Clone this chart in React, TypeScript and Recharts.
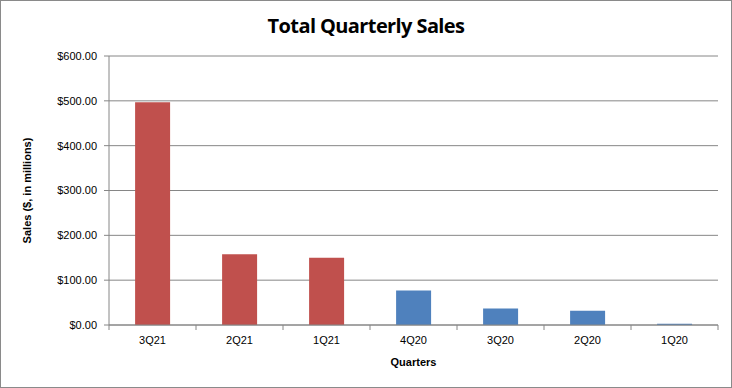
import React from 'react';
import { BarChart, Bar, XAxis, YAxis, CartesianGrid, Cell } from 'recharts';

const quarters = ['3Q21', '2Q21', '1Q21', '4Q20', '3Q20', '2Q20', '1Q20'];
const sales = [497, 158, 150, 77, 37, 32, 3];
const yTicks = [0, 100, 200, 300, 400, 500, 600];

const data = quarters.map((q, i) => ({ quarter: q, sales: sales[i] }));

const RED = '#C0504D';
const BLUE = '#4F81BD';
const AXIS = '#868686';
const FONT = '"Liberation Sans", Arial, sans-serif';
const TICK_SIZE = 5;
const TICK_MARGIN = 6;

// category labels, plus Excel-style tick marks on the boundaries between categories
const QuarterTick = (props: any) => {
  const { x, y, payload, index, visibleTicksCount } = props;
  const half = payload?.offset ?? 0;
  const axisY = y - TICK_SIZE - TICK_MARGIN;
  return (
    <g>
      <line x1={x - half} x2={x - half} y1={axisY} y2={axisY + TICK_SIZE} stroke={AXIS} />
      {index === visibleTicksCount - 1 && (
        <line x1={x + half} x2={x + half} y1={axisY} y2={axisY + TICK_SIZE} stroke={AXIS} />
      )}
      <text x={x} y={y} dy="0.71em" textAnchor="middle" fontSize={11} fill="#000" fontFamily={FONT}>
        {payload.value}
      </text>
    </g>
  );
};

export default function App() {
  return (
    <div style={{ position: 'relative', width: 732, height: 388, background: '#fff', fontFamily: FONT }}>
      <style>{`body{margin:0}`}</style>
      <div
        style={{
          position: 'absolute',
          inset: 0,
          border: '1px solid #8a8a8a',
          boxSizing: 'border-box',
          pointerEvents: 'none',
          zIndex: 2,
        }}
      />
      <div
        style={{
          position: 'absolute',
          top: 12,
          left: 0,
          width: 732,
          textAlign: 'center',
          fontFamily: '"Open Sans", sans-serif',
          fontWeight: 700,
          fontSize: 20,
          letterSpacing: -0.6,
          color: '#000',
        }}
      >
        Total Quarterly Sales
      </div>
      <BarChart
        width={732}
        height={388}
        data={data}
        margin={{ top: 56, right: 14, bottom: 33, left: 0 }}
        barCategoryGap="30%"
      >
        <CartesianGrid vertical={false} stroke={AXIS} strokeWidth={1} />
        <XAxis
          dataKey="quarter"
          height={30}
          stroke={AXIS}
          tickLine={false}
          tickSize={TICK_SIZE}
          tickMargin={TICK_MARGIN}
          interval={0}
          tick={<QuarterTick />}
          label={{
            value: 'Quarters',
            position: 'insideBottom',
            offset: -11,
            style: { fontSize: 11, fontWeight: 700, fill: '#000', fontFamily: FONT },
          }}
        />
        <YAxis
          width={109}
          domain={[0, 600]}
          ticks={yTicks}
          stroke={AXIS}
          tickSize={5}
          tickMargin={7}
          interval={0}
          tickFormatter={(v: number) => `$${v.toFixed(2)}`}
          tick={{ fontSize: 11, fill: '#000', fontFamily: FONT }}
          label={{
            value: 'Sales ($, in millions)',
            angle: -90,
            position: 'insideLeft',
            offset: 27,
            style: { textAnchor: 'middle', fontSize: 11, fontWeight: 700, fill: '#000', fontFamily: FONT },
          }}
        />
        <Bar dataKey="sales" isAnimationActive={false}>
          {data.map((d) => (
            <Cell key={d.quarter} fill={d.quarter.endsWith('21') ? RED : BLUE} />
          ))}
        </Bar>
      </BarChart>
    </div>
  );
}
